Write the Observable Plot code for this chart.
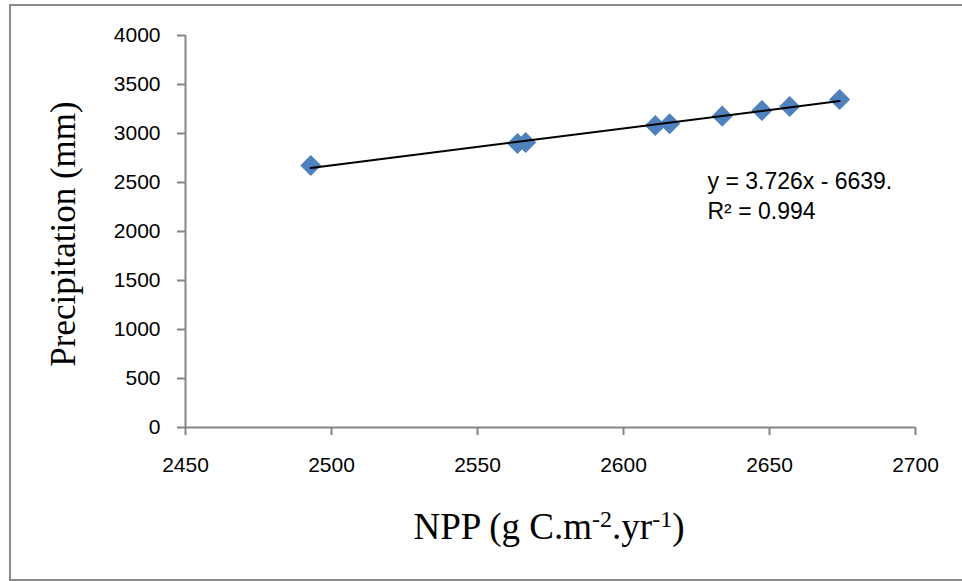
<!DOCTYPE html>
<html>
<head>
<meta charset="utf-8">
<script src="https://cdn.jsdelivr.net/npm/d3@7"></script>
<script src="https://cdn.jsdelivr.net/npm/@observablehq/plot@0.6"></script>
<style>
  html, body { margin: 0; padding: 0; background: #fff; overflow: hidden; }
  #wrap { position: relative; width: 962px; height: 581px; overflow: hidden; background: #fff; }
  #border { position: absolute; left: 9px; top: 4px; width: 1000px; height: 577px; border: 2px solid #8a8a8a; box-sizing: border-box; }
  #chart { position: absolute; left: 0; top: 0; }
</style>
</head>
<body>
<div id="wrap"><div id="border"></div><div id="chart"></div></div>
<script>
// Data
const npp = [2492.9, 2563.7, 2566.5, 2610.9, 2615.8, 2633.8, 2647.4, 2656.9, 2674.0];
const precipitation = [2673, 2898, 2908, 3082, 3099, 3177, 3235, 3276, 3347];
const xTicks = [2450, 2500, 2550, 2600, 2650, 2700];
const yTicks = [0, 500, 1000, 1500, 2000, 2500, 3000, 3500, 4000];
const equationLines = ["y = 3.726x - 6639.", "R² = 0.994"];

const data = npp.map((x, i) => ({x, y: precipitation[i]}));

const sansFont = "'Liberation Sans', Arial, sans-serif";
const serifFont = "'Liberation Serif', 'Times New Roman', serif";
const axisGray = "#868686";

const plot = Plot.plot({
  width: 962,
  height: 581,
  marginLeft: 185,
  marginRight: 47,
  marginTop: 35,
  marginBottom: 154,
  style: {fontFamily: sansFont, fontSize: "21px", background: "transparent", color: "#000"},
  x: {domain: [2450, 2700]},
  y: {domain: [0, 4000]},
  marks: [
    Plot.ruleX([xTicks[0]], {stroke: axisGray, strokeWidth: 2}),
    Plot.ruleY([yTicks[0]], {stroke: axisGray, strokeWidth: 2}),
    Plot.axisY({ticks: yTicks, tickSize: 8, tickPadding: 17, stroke: axisGray, strokeWidth: 2, fill: "#000",
      tickFormat: d => String(d), label: null, fontSize: 21}),
    Plot.axisX({ticks: xTicks, tickSize: 8, tickPadding: 22, stroke: axisGray, strokeWidth: 2, fill: "#000",
      tickFormat: d => String(d), label: null, fontSize: 21}),
    Plot.dot(data, {x: "x", y: "y", symbol: "diamond2", r: 9.5, fill: "#4f81bd", stroke: "none"}),
    Plot.linearRegressionY(data, {x: "x", y: "y", ci: 0, stroke: "#000", strokeWidth: 2}),
    Plot.text([equationLines.join("\n")], {frameAnchor: "top-left", textAnchor: "start", lineAnchor: "top",
      dx: 522, dy: 132, lineHeight: 1.3, fontSize: 23, fill: "#000"})
  ]
});

document.getElementById("chart").appendChild(plot);

const svg = d3.select(plot);
svg.selectAll("text").filter(function () { return !this.closest("[font-size='23']"); })
  .style("font-size", "21px");

// X-axis title with superscripts
const xl = svg.append("text")
  .attr("x", 549).attr("y", 539)
  .attr("text-anchor", "middle")
  .attr("font-family", serifFont)
  .style("font-size", "37px").attr("fill", "#000");
xl.append("tspan").text("NPP (g C.m");
xl.append("tspan").attr("dy", -12).style("font-size", "24px").text("-2");
xl.append("tspan").attr("dy", 12).text(".yr");
xl.append("tspan").attr("dy", -12).style("font-size", "24px").text("-1");
xl.append("tspan").attr("dy", 12).text(")");

// Y-axis title
svg.append("text")
  .attr("transform", "translate(75,234) rotate(-90)")
  .attr("text-anchor", "middle")
  .attr("font-family", serifFont)
  .style("font-size", "35px").attr("fill", "#000")
  .text("Precipitation (mm)");
</script>
</body>
</html>
